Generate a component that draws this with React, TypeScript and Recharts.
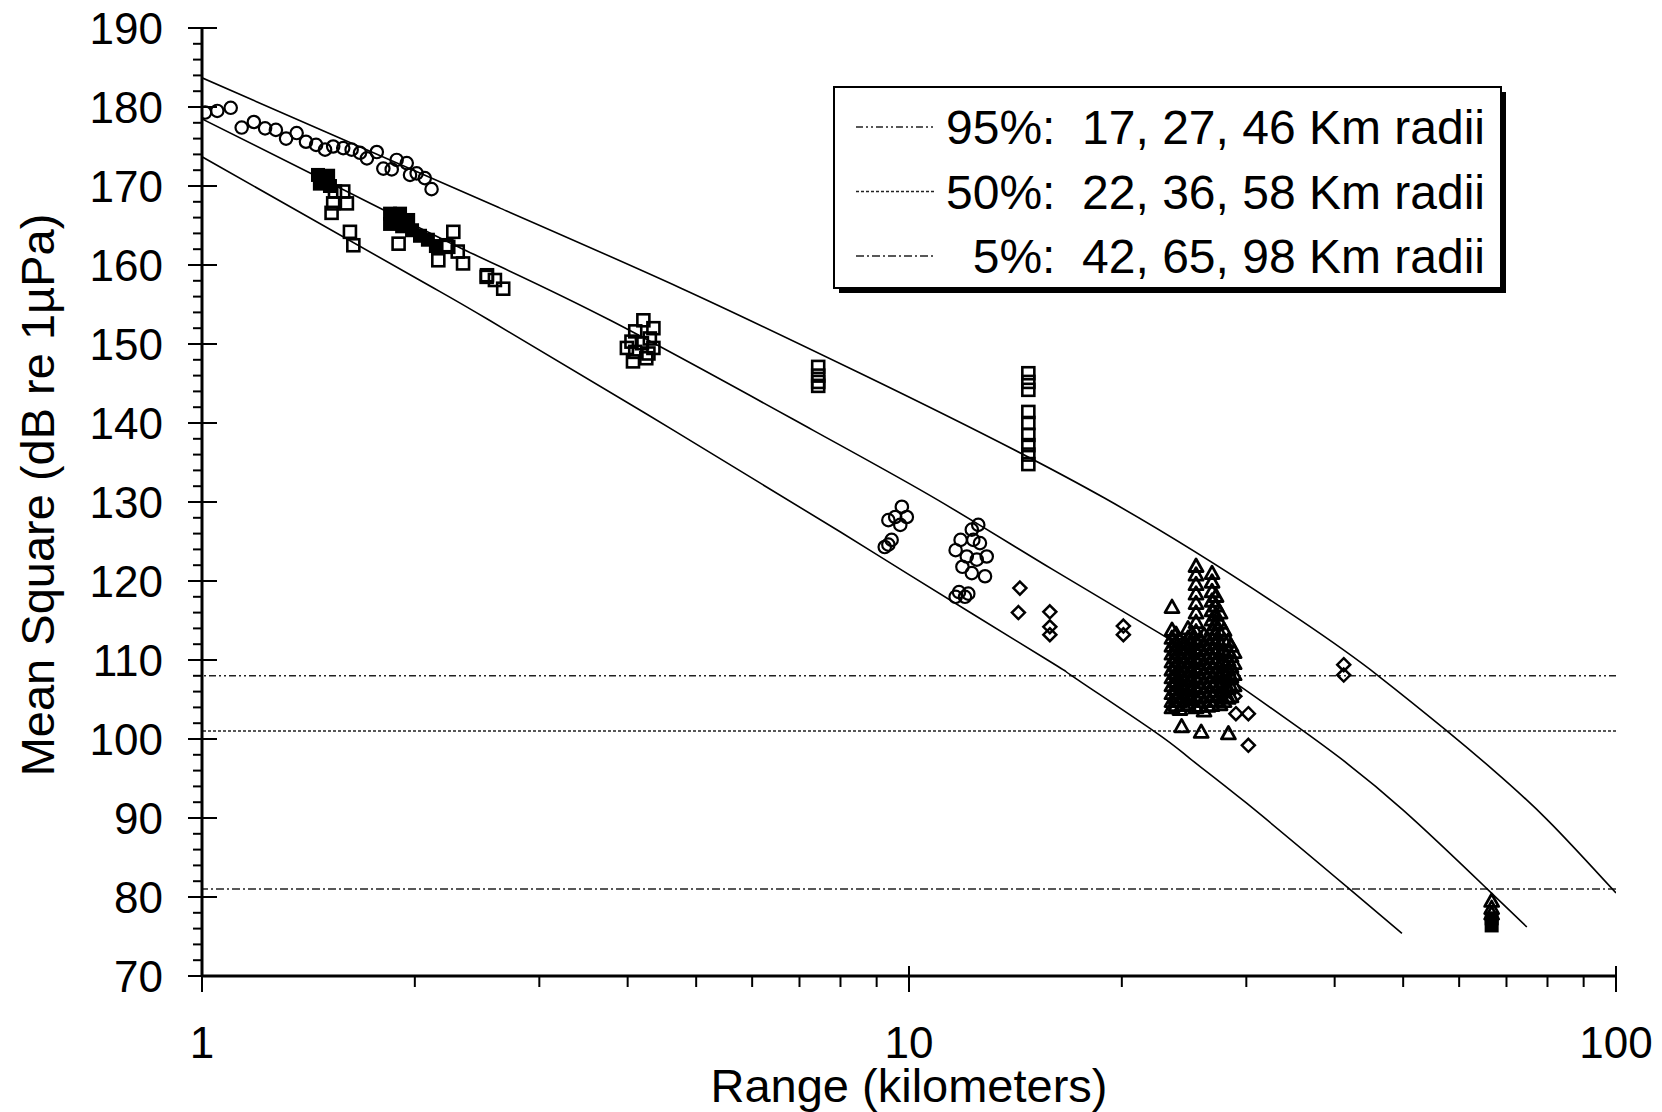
import React from 'react'
import {
  ComposedChart,
  Line,
  Scatter,
  XAxis,
  YAxis,
  ReferenceLine,
} from 'recharts'

// fitted curves: [range km, dB]
const curveUpper: [number, number][] = [
  [1, 183.7], [1.5, 176.8], [2.64, 167.2], [4.75, 157.1], [8.53, 146.3],
  [18.9, 130.5], [35.7, 115.1], [46.1, 108.0], [57.7, 101.0], [67, 96.1],
  [79.9, 89.8], [100, 80.5],
]
const curveMiddle: [number, number][] = [
  [1, 178.5], [1.5, 170.6], [2.34, 162.0], [3.78, 153.0], [7.31, 139.1], [10.96, 130.3],
  [16, 121.4], [22.6, 113.4], [27.5, 108.5], [35.5, 101.5], [40.7, 97.6], [50, 91.0],
  [65.6, 81.1], [74.8, 76.2],
]
const curveLower: [number, number][] = [
  [1, 173.7], [2.03, 158.1], [2.55, 153.0], [4.64, 139.1], [8, 126.2], [10, 120.8],
  [15.7, 110.0], [17, 108], [22.2, 101], [24.9, 97.6], [30, 91.9], [42, 81], [49.8, 75.4],
]

// thresholds and legend
const thresholds = [108, 101, 81]
const thresholdNames = ['95%', '50%', '5%']
const thresholdRadii = [[17, 27, 46], [22, 36, 58], [42, 65, 98]]
const thresholdDash = ['7 3 2 3 2 3', '3 2', '8 3 2 3']

// measurements
const openCircles: [number, number][] = [
  [1.01, 179.3], [1.051, 179.5], [1.098, 179.9], [1.138, 177.4], [1.184, 178.1],
  [1.228, 177.3], [1.272, 177.1], [1.315, 176.0], [1.361, 176.7], [1.403, 175.6],
  [1.45, 175.2], [1.493, 174.6], [1.533, 175.0], [1.584, 174.8], [1.628, 174.6],
  [1.673, 174.2], [1.711, 173.5], [1.767, 174.3], [1.805, 172.2], [1.855, 172.1],
  [1.885, 173.3], [1.948, 172.9], [1.969, 171.4], [2.012, 171.6], [2.066, 171.0],
  [2.112, 169.6],
  [9.77, 129.4], [9.56, 128.1], [9.93, 128.1], [9.35, 127.7], [9.72, 127.1],
  [9.45, 125.2], [9.35, 124.6], [9.24, 124.3],
  [12.53, 127.1], [12.27, 126.5], [11.83, 125.2], [11.64, 123.9], [12.33, 125.2],
  [12.6, 124.8], [12.88, 123.1], [12.07, 123.1], [12.47, 122.7], [11.9, 121.8],
  [12.27, 121.0], [12.81, 120.6], [11.77, 118.6], [12.13, 118.4], [11.64, 118.0],
  [12.0, 118.0],
]
const filledSquares: [number, number][] = [
  [1.459, 171.4], [1.508, 171.3], [1.468, 170.3], [1.517, 170.0],
  [1.845, 166.5], [1.906, 166.5], [1.845, 165.2], [1.919, 164.9], [1.957, 165.7],
  [1.982, 164.4], [2.034, 163.7], [2.087, 163.2], [2.142, 162.4],
  [66.7, 77.3], [66.7, 76.4],
]
const openSquares: [number, number][] = [
  [1.542, 169.3], [1.584, 169.3], [1.603, 167.8], [1.533, 167.8], [1.525, 166.6],
  [1.619, 164.2], [1.637, 162.5],
  [1.897, 162.7], [2.159, 160.6], [2.267, 164.2], [2.23, 162.3], [2.34, 160.2],
  [2.216, 162.5], [2.3, 161.7], [2.527, 158.5], [2.596, 158.1], [2.667, 157.0], [2.53, 158.7],
  [4.21, 153.0], [4.35, 152.0], [4.1, 151.6], [4.3, 150.7], [4.05, 150.3], [4.1, 149.0],
  [4.28, 148.8], [4.35, 149.5], [4.07, 147.8], [4.25, 148.2], [3.99, 149.5], [4.19, 150.1],
  [7.44, 147.1], [7.44, 146.0], [7.44, 145.2], [7.44, 144.7],
  [14.75, 146.3], [14.75, 145.2], [14.75, 144.2], [14.75, 141.4], [14.75, 140.0],
  [14.75, 138.5], [14.75, 137.2], [14.75, 136.0], [14.75, 134.8],
]
const diamonds: [number, number][] = [
  [14.35, 119.1], [14.28, 116.0], [15.82, 116.1], [15.82, 114.2], [15.82, 113.2],
  [20.1, 114.3], [20.1, 113.2],
  [28.9, 105.4], [29.0, 103.2], [30.2, 103.2], [30.2, 99.2],
  [41.2, 109.4], [41.2, 108.1],
]
// triangle cluster near 23-29 km, read column by column
const triangleColumns: { x: number; ys: number[] }[] = [
  { x: 23.55, ys: [116.7, 113.8, 112.8, 111.8, 110.8, 109.8, 108.8, 107.8, 106.8, 105.8, 104.8, 104.0] },
  { x: 23.86, ys: [113.3, 112.3, 111.3, 110.3, 109.3, 108.3, 107.3, 106.3, 105.3, 104.3] },
  { x: 24.17, ys: [112.5, 111.4, 110.3, 109.2, 108.1, 107.0, 105.9, 104.8, 103.8] },
  { x: 24.3, ys: [101.6] },
  { x: 24.49, ys: [112.0, 110.9, 109.8, 108.7, 107.6, 106.5, 105.4, 104.3] },
  { x: 24.81, ys: [114.0, 112.8, 111.6, 110.4, 109.2, 108.0, 106.8, 105.6, 104.4] },
  { x: 25.14, ys: [113.4, 112.2, 111.0, 109.8, 108.6, 107.4, 106.2, 105.0] },
  { x: 25.47, ys: [121.9, 120.8, 119.6, 118.4, 117.2, 116.0, 114.8, 113.6, 112.4, 111.2, 110.0, 108.8, 107.6, 106.4, 105.2, 104.0] },
  { x: 25.8, ys: [112.6, 111.4, 110.2, 109.0, 107.8, 106.6, 105.4, 104.2] },
  { x: 25.9, ys: [100.9] },
  { x: 26.14, ys: [113.2, 112.0, 110.8, 109.6, 108.4, 107.2, 106.0, 104.8, 103.6] },
  { x: 26.48, ys: [112.6, 111.4, 110.2, 109.0, 107.8, 106.6, 105.4, 104.2] },
  { x: 26.83, ys: [121.0, 119.9, 118.7, 117.5, 116.3, 115.1, 113.9, 112.7, 111.5, 110.3, 109.1, 107.9, 106.7, 105.5, 104.3] },
  { x: 27.18, ys: [118.1, 116.9, 115.7, 114.5, 113.3, 112.1, 110.9, 109.7, 108.5, 107.3, 106.1, 104.9] },
  { x: 27.54, ys: [116.0, 114.7, 113.4, 112.1, 110.8, 109.5, 108.2, 106.9, 105.6, 104.4] },
  { x: 27.9, ys: [113.8, 112.5, 111.2, 109.9, 108.6, 107.3, 106.0, 104.8] },
  { x: 28.27, ys: [112.4, 111.2, 110.0, 108.8, 107.6, 106.4, 105.2] },
  { x: 28.3, ys: [100.7] },
  { x: 28.54, ys: [111.8, 110.5, 109.2, 107.9, 106.6, 105.4] },
  { x: 28.83, ys: [111.0, 109.6, 108.2, 106.8] },
  { x: 66.7, ys: [79.5, 78.6, 77.9] },
]
const triangles: [number, number][] = triangleColumns.flatMap(c => c.ys.map(y => [c.x, y] as [number, number]))

// axis ticks
const xMajor = [1, 10, 100]
const xMinor = [2, 3, 4, 5, 6, 7, 8, 9, 20, 30, 40, 50, 60, 70, 80, 90]
const yMajor = [70, 80, 90, 100, 110, 120, 130, 140, 150, 160, 170, 180, 190]
const yMinor = yMajor.slice(0, -1).flatMap(v => [v + 2, v + 4, v + 6, v + 8])

const toPts = (arr: [number, number][]) => arr.map(([x, y]) => ({ x, y }))

const FONT = '"Liberation Sans", Arial, sans-serif'
const INK = '#000'

const OpenCircle = ({ cx, cy }: any) => (
  <circle cx={cx} cy={cy} r={6.2} fill="none" stroke={INK} strokeWidth={2.2} />
)
const OpenSquare = ({ cx, cy }: any) => (
  <rect x={cx - 6} y={cy - 6} width={12} height={12} fill="none" stroke={INK} strokeWidth={2.6} />
)
const FilledSquare = ({ cx, cy }: any) => (
  <rect x={cx - 7} y={cy - 7} width={14} height={14} fill={INK} />
)
const Diamond = ({ cx, cy }: any) => (
  <path d={`M${cx},${cy - 6.5} L${cx + 6.5},${cy} L${cx},${cy + 6.5} L${cx - 6.5},${cy} Z`} fill="none" stroke={INK} strokeWidth={2.5} />
)
const Triangle = ({ cx, cy }: any) => (
  <path d={`M${cx},${cy - 7} L${cx + 7},${cy + 5.5} L${cx - 7},${cy + 5.5} Z`} fill="none" stroke={INK} strokeWidth={2.8} strokeLinejoin="round" />
)

const LeftTick = ({ x, y, payload }: any) => {
  const major = yMajor.includes(payload.value)
  return (
    <g>
      <line x1={major ? x - 14 : x - 9} x2={major ? x + 15 : x} y1={y} y2={y} stroke={INK} strokeWidth={2} />
      {major && (
        <text x={x - 39} y={y} dy="0.36em" textAnchor="end" fontSize={44} fontFamily={FONT} fill={INK}>
          {payload.value}
        </text>
      )}
    </g>
  )
}

const RightTick = ({ x, y, payload }: any) => {
  const major = yMajor.includes(payload.value)
  return <line x1={major ? x - 14 : x - 10} x2={major ? x + 12 : x} y1={y} y2={y} stroke={INK} strokeWidth={2} />
}

const BottomTick = ({ x, y, payload }: any) => {
  const major = xMajor.includes(payload.value)
  return (
    <g>
      <line x1={x} x2={x} y1={major ? y - 10 : y} y2={major ? y + 16 : y + 11} stroke={INK} strokeWidth={2} />
      {major && (
        <text x={x} y={y + 82} textAnchor="middle" fontSize={44} fontFamily={FONT} fill={INK}>
          {payload.value}
        </text>
      )}
    </g>
  )
}

const TopTick = ({ x, y, payload }: any) => {
  const major = xMajor.includes(payload.value)
  return <line x1={x} x2={x} y1={major ? y - 10 : y} y2={major ? y + 14 : y + 10} stroke={INK} strokeWidth={2} />
}

function LegendBox() {
  return (
    <svg width={690} height={215} style={{ position: 'absolute', left: 832, top: 85 }}>
      <rect x={7} y={7} width={667} height={201} fill={INK} />
      <rect x={2} y={2} width={667} height={201} fill="#fff" stroke={INK} strokeWidth={2} />
      {thresholdNames.map((name, i) => {
        const cy = 42 + i * 64.5
        return (
          <g key={name}>
            <line x1={24} x2={103} y1={cy} y2={cy} stroke="#222" strokeWidth={1.5} strokeDasharray={thresholdDash[i]} />
            <text x={653} y={cy} dy="0.36em" textAnchor="end" fontSize={48} fontFamily={FONT} fill={INK} style={{ whiteSpace: 'pre' }}>
              {`${name}:  ${thresholdRadii[i].join(', ')} Km radii`}
            </text>
          </g>
        )
      })}
    </svg>
  )
}

export default function App() {
  return (
    <div style={{ position: 'relative', width: 1662, height: 1112, background: '#fff', fontFamily: FONT }}>
      <style>{'body{margin:0;background:#fff}'}</style>
      <ComposedChart width={1662} height={1112} margin={{ top: 28, right: 46, bottom: 0, left: 0 }}>
        <XAxis
          xAxisId="bottom"
          dataKey="x"
          type="number"
          scale="log"
          domain={[1, 100]}
          allowDataOverflow
          ticks={[...xMajor, ...xMinor]}
          interval={0}
          tickSize={0}
          tickMargin={0}
          tickLine={false}
          tick={<BottomTick />}
          height={136}
          axisLine={{ stroke: INK, strokeWidth: 3 }}
          label={{
            content: () => (
              <text x={909} y={1102} textAnchor="middle" fontSize={47} fontFamily={FONT} fill={INK}>
                Range (kilometers)
              </text>
            ),
          }}
        />
        <XAxis
          xAxisId="top"
          orientation="top"
          type="number"
          scale="log"
          domain={[1, 100]}
          allowDataOverflow
          ticks={[...xMajor, ...xMinor]}
          interval={0}
          tickSize={0}
          tickMargin={0}
          tickLine={false}
          tick={<TopTick />}
          height={0}
          axisLine={{ stroke: INK, strokeWidth: 2.5 }}
        />
        <YAxis
          yAxisId="left"
          type="number"
          domain={[70, 190]}
          allowDataOverflow
          ticks={[...yMajor, ...yMinor]}
          interval={0}
          tickSize={0}
          tickMargin={0}
          tickLine={false}
          tick={<LeftTick />}
          width={202}
          axisLine={{ stroke: INK, strokeWidth: 3 }}
          label={{
            content: () => (
              <text
                x={54}
                y={495}
                transform="rotate(-90 54 495)"
                textAnchor="middle"
                fontSize={47}
                fontFamily={FONT}
                fill={INK}
              >
                Mean Square (dB re 1µPa)
              </text>
            ),
          }}
        />
        <YAxis
          yAxisId="right"
          orientation="right"
          type="number"
          domain={[70, 190]}
          allowDataOverflow
          ticks={[...yMajor, ...yMinor]}
          interval={0}
          tickSize={0}
          tickMargin={0}
          tickLine={false}
          tick={<RightTick />}
          width={0}
          axisLine={{ stroke: INK, strokeWidth: 2.5 }}
        />

        {thresholds.map((t, i) => (
          <ReferenceLine
            key={t}
            xAxisId="top"
            yAxisId="right"
            y={t}
            stroke="#222"
            strokeWidth={1.5}
            strokeDasharray={thresholdDash[i]}
          />
        ))}

        {[curveUpper, curveMiddle, curveLower].map((c, i) => (
          <Line
            key={i}
            xAxisId="bottom"
            yAxisId="left"
            data={toPts(c)}
            dataKey="y"
            type="natural"
            dot={false}
            stroke={INK}
            strokeWidth={1.6}
            isAnimationActive={false}
          />
        ))}

        <Scatter xAxisId="bottom" yAxisId="left" data={toPts(openCircles)} dataKey="y" shape={<OpenCircle />} isAnimationActive={false} />
        <Scatter xAxisId="bottom" yAxisId="left" data={toPts(openSquares)} dataKey="y" shape={<OpenSquare />} isAnimationActive={false} />
        <Scatter xAxisId="bottom" yAxisId="left" data={toPts(filledSquares)} dataKey="y" shape={<FilledSquare />} isAnimationActive={false} />
        <Scatter xAxisId="bottom" yAxisId="left" data={toPts(diamonds)} dataKey="y" shape={<Diamond />} isAnimationActive={false} />
        <Scatter xAxisId="bottom" yAxisId="left" data={toPts(triangles)} dataKey="y" shape={<Triangle />} isAnimationActive={false} />
      </ComposedChart>
      <LegendBox />
    </div>
  )
}
